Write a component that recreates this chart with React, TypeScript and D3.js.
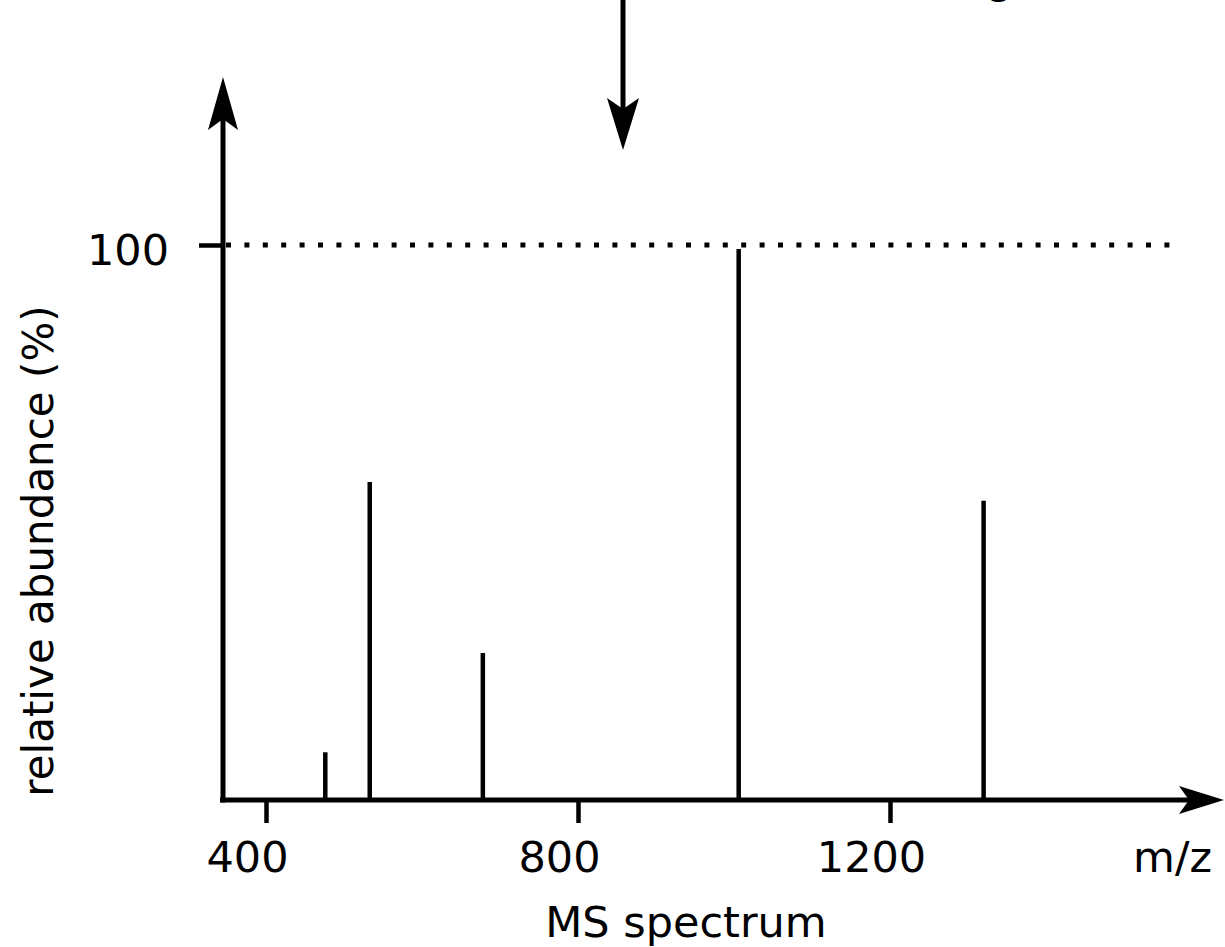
import React, { useRef, useEffect } from 'react';
import * as d3 from 'd3';

// peak positions (m/z) and their relative abundance (%)
const peakMz = [476, 533, 678, 1006, 1320];
const peakAbundance = [8.6, 57.3, 26.5, 99.3, 53.9];
const xTicks = [400, 800, 1200];
const yTicks = [100];

const WIDTH = 1225;
const HEIGHT = 947;
const FONT = '"DejaVu Sans", sans-serif';

const App: React.FC = () => {
  const svgRef = useRef<SVGSVGElement>(null);

  useEffect(() => {
    const svg = d3.select(svgRef.current);
    svg.selectAll('*').remove();

    // scales: 400 -> 266px, 1200 -> 890px ; 0% -> 800px, 100% -> 245px
    const x = d3.scaleLinear().domain([400, 1200]).range([266, 890]);
    const y = d3.scaleLinear().domain([0, 100]).range([800, 245]);
    const originX = 223;
    const originY = y(0);

    // dotted reference line at 100%
    svg.append('line')
      .attr('x1', originX + 3)
      .attr('x2', 1172)
      .attr('y1', y(100))
      .attr('y2', y(100))
      .attr('stroke', '#000')
      .attr('stroke-width', 5)
      .attr('stroke-dasharray', '5,13.4');

    // peaks
    svg.selectAll('.peak')
      .data(peakMz.map((mz, i) => ({ mz, ab: peakAbundance[i] })))
      .enter()
      .append('line')
      .attr('class', 'peak')
      .attr('x1', d => x(d.mz))
      .attr('x2', d => x(d.mz))
      .attr('y1', originY)
      .attr('y2', d => y(d.ab))
      .attr('stroke', '#000')
      .attr('stroke-width', 4.5);

    // x axis ticks and labels
    const xAxis = svg.append('g')
      .attr('transform', `translate(0,${originY})`)
      .call(d3.axisBottom(x).tickValues(xTicks).tickSize(23).tickFormat(d3.format('d')));
    xAxis.select('.domain').remove();
    xAxis.selectAll('line').attr('stroke', '#000').attr('stroke-width', 4.5);
    xAxis.selectAll('text')
      .attr('y', 72)
      .attr('dy', 0)
      .attr('dx', -19)
      .attr('fill', '#000')
      .style('font-family', FONT)
      .style('font-size', '43px');

    // y axis tick and label
    const yAxis = svg.append('g')
      .attr('transform', `translate(${originX},0)`)
      .call(d3.axisLeft(y).tickValues(yTicks).tickSize(24).tickFormat(d3.format('d')));
    yAxis.select('.domain').remove();
    yAxis.selectAll('line').attr('stroke', '#000').attr('stroke-width', 4.5);
    yAxis.selectAll('text')
      .attr('x', -54)
      .attr('dy', 19)
      .attr('fill', '#000')
      .style('font-family', FONT)
      .style('font-size', '43px');

    // axis lines
    svg.append('line')
      .attr('x1', originX).attr('x2', originX)
      .attr('y1', originY + 2.5).attr('y2', 110)
      .attr('stroke', '#000').attr('stroke-width', 5);
    svg.append('line')
      .attr('x1', originX - 3).attr('x2', 1195)
      .attr('y1', originY).attr('y2', originY)
      .attr('stroke', '#000').attr('stroke-width', 5);

    // arrowheads (swallow tail)
    const head = (tx: number, ty: number, dirX: number, dirY: number, len: number, half: number, notch: number) => {
      const px = -dirY;
      const py = dirX;
      const bx = tx - dirX * len;
      const by = ty - dirY * len;
      const nx = tx - dirX * (len - notch);
      const ny = ty - dirY * (len - notch);
      return `M${tx},${ty}L${bx + px * half},${by + py * half}L${nx},${ny}L${bx - px * half},${by - py * half}Z`;
    };
    svg.append('path').attr('d', head(originX, 77, 0, -1, 53, 15, 11)).attr('fill', '#000');
    svg.append('path').attr('d', head(1224, originY, 1, 0, 45, 14, 10)).attr('fill', '#000');

    // arrow pointing down at the top
    svg.append('line')
      .attr('x1', 623).attr('x2', 623)
      .attr('y1', 0).attr('y2', 120)
      .attr('stroke', '#000').attr('stroke-width', 5);
    svg.append('path').attr('d', head(623, 150, 0, 1, 52, 16, 11)).attr('fill', '#000');

    // cut-off title glyph at top edge (only its descender shows)
    svg.append('text')
      .attr('x', 1000)
      .attr('y', -7)
      .attr('text-anchor', 'middle')
      .style('font-family', FONT)
      .style('font-size', '43px')
      .text('g');

    // axis labels
    svg.append('text')
      .attr('x', 1212)
      .attr('y', 872)
      .attr('text-anchor', 'end')
      .style('font-family', FONT)
      .style('font-size', '43px')
      .text('m/z');

    svg.append('text')
      .attr('x', 686)
      .attr('y', 937)
      .attr('text-anchor', 'middle')
      .style('font-family', FONT)
      .style('font-size', '43px')
      .text('MS spectrum');

    svg.append('text')
      .attr('transform', 'rotate(-90)')
      .attr('x', -551)
      .attr('y', 53)
      .attr('text-anchor', 'middle')
      .style('font-family', FONT)
      .style('font-size', '42px')
      .text('relative abundance (%)');
  }, []);

  return (
    <div style={{ position: 'absolute', left: 0, top: 0 }}>
      <svg ref={svgRef} width={WIDTH} height={HEIGHT} style={{ display: 'block', background: '#fff' }} />
    </div>
  );
};

export default App;
